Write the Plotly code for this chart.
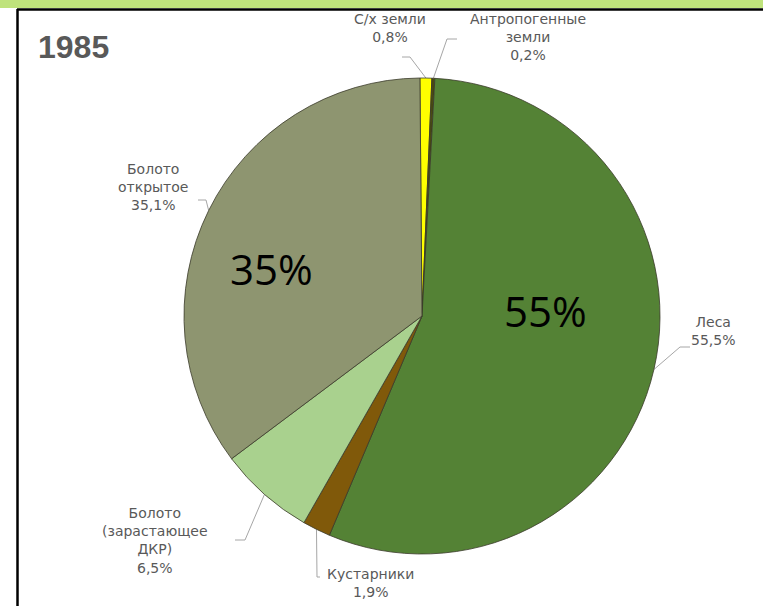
import math
import plotly.graph_objects as go

# ---- data ----
categories = ["С/х земли", "Антропогенные земли", "Леса", "Кустарники",
              "Болото (зарастающее ДКР)", "Болото открытое"]
label_lines = [["С/х земли"], ["Антропогенные", "земли"], ["Леса"], ["Кустарники"],
               ["Болото", "(зарастающее", "ДКР)"], ["Болото", "открытое"]]
values = [0.8, 0.2, 55.5, 1.9, 6.5, 35.1]
colors = ["#ffff00", "#4a4a12", "#548235", "#80590a", "#a9d18e", "#8e9570"]
title_text = "1985"
big_labels = ["35%", "55%"]

# ---- layout geometry (pixels) ----
W, H = 763, 606
CX, CY, R = 422, 316, 238
ROT = -0.5
# label centre, elbow point, end point for each category
label_pos = [(390, 28), (528, 37), (713, 331), (370, 583), (155, 540), (153, 187)]
elbows = [(410, 57), (447, 39), (680, 347), (317, 577), (245, 540), (206, 200)]
ends = [(402, 57), (457, 39), (690, 347), (320, 577), (235, 540), (198, 200)]
big_pos = [(271, 268), (545, 310)]

fig = go.Figure()

fig.add_trace(go.Pie(
    labels=categories, values=values, sort=False, direction="clockwise",
    rotation=ROT, textinfo="none", hoverinfo="label+percent",
    marker=dict(colors=colors, line=dict(color="#3a3a2a", width=0.8)),
    domain=dict(x=[(CX - R) / W, (CX + R) / W],
                y=[1 - (CY + R) / H, 1 - (CY - R) / H]),
    showlegend=False,
))

# leader lines from slice middles
total = sum(values)
acc = ROT
annotations = []
for i, v in enumerate(values):
    ang = acc + v / total * 360 / 2
    acc += v / total * 360
    a = math.radians(ang)
    sx = CX + R * math.sin(a)
    sy = CY - R * math.cos(a)
    fig.add_trace(go.Scatter(
        x=[sx, elbows[i][0], ends[i][0]], y=[sy, elbows[i][1], ends[i][1]],
        mode="lines", line=dict(color="#a6a6a6", width=1),
        hoverinfo="skip", showlegend=False, xaxis="x", yaxis="y"))
    pct = f"{v:.1f}".replace(".", ",") + "%"
    txt = "<br>".join(label_lines[i] + [pct])
    annotations.append(dict(
        x=label_pos[i][0], y=label_pos[i][1], xref="x", yref="y", text=txt,
        showarrow=False, xanchor="center", yanchor="middle", align="center",
        font=dict(family="DejaVu Sans", size=14, color="#595959")))

annotations.append(dict(
    x=73, y=47, xref="x", yref="y", text=f"<b>{title_text}</b>", showarrow=False,
    xanchor="center", yanchor="middle",
    font=dict(family="Liberation Sans", size=32, color="#595959")))

for t, (px, py) in zip(big_labels, big_pos):
    annotations.append(dict(
        x=px, y=py, xref="x", yref="y", text=t, showarrow=False,
        xanchor="center", yanchor="middle",
        font=dict(family="Open Sans", size=42, color="#000000")))

shapes = [
    dict(type="rect", xref="x", yref="y", x0=0, x1=W, y0=0, y1=8,
         fillcolor="#bfe37c", line=dict(width=0), layer="above"),
    dict(type="line", xref="x", yref="y", x0=17, x1=W, y0=9.5, y1=9.5,
         line=dict(color="#000000", width=2.5), layer="above"),
    dict(type="line", xref="x", yref="y", x0=17.5, x1=17.5, y0=9, y1=H,
         line=dict(color="#000000", width=2.5), layer="above"),
]

fig.update_layout(
    width=W, height=H, margin=dict(l=0, r=0, t=0, b=0),
    paper_bgcolor="white", plot_bgcolor="rgba(0,0,0,0)",
    xaxis=dict(range=[0, W], visible=False, fixedrange=True, domain=[0, 1]),
    yaxis=dict(range=[H, 0], visible=False, fixedrange=True, domain=[0, 1]),
    annotations=annotations, shapes=shapes,
)

fig.write_html(
    "out.html",
    config={"displayModeBar": False},
    post_script="document.body.style.margin='0';document.body.style.overflow='hidden';",
)
